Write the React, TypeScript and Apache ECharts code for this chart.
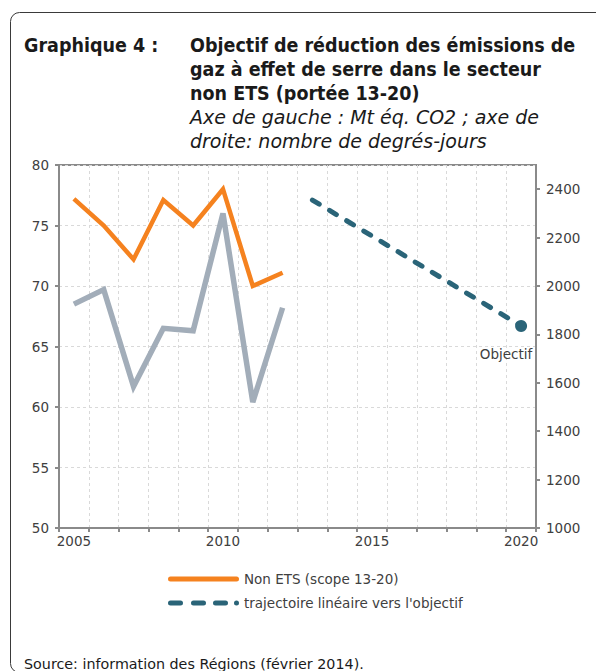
import React, { useEffect, useRef } from "react";
import * as echarts from "echarts";

const years = ["2005","2006","2007","2008","2009","2010","2011","2012","2013","2014","2015","2016","2017","2018","2019","2020"];
const nonEtsValues = [77.2, 75.0, 72.2, 77.1, 75.0, 78.0, 70.0, 71.1];
const degreeDaysValues = [1925, 1985, 1585, 1825, 1815, 2300, 1520, 1910];
const trajectoryYears = ["2013", "2020"];
const trajectoryValues = [77.1, 66.7];
const leftTicks = { min: 50, max: 80, interval: 5 };
const rightTicks = { min: 1000, max: 2500, interval: 200 };

const nonEtsName = "Non ETS (scope 13-20)";
const trajName = "trajectoire linéaire vers l'objectif";

const FONT = "'DejaVu Sans', Verdana, sans-serif";
const COND = "'DejaVu Sans Condensed', 'DejaVu Sans', sans-serif";
const AXIS_GREY = "#8a8a8a";
const TEXT = "#404040";

export default function App() {
  const ref = useRef<HTMLDivElement>(null);
  useEffect(() => {
    if (!ref.current) return;
    const chart = echarts.init(ref.current, undefined, { renderer: "svg" });
    const titleStyle = (text: string, x: number, y: number, italic = false) => ({
      type: "text",
      x,
      y,
      style: {
        text,
        font: italic ? `italic 19px ${FONT}` : `bold 19.5px ${COND}`,
        fill: "#1a1a1a",
        verticalAlign: "middle",
        align: "left",
      },
    });
    const trajData = trajectoryYears.map((y, i) => {
      const last = i === trajectoryYears.length - 1;
      return {
        value: [y, trajectoryValues[i]],
        symbol: last ? "circle" : "none",
        symbolSize: last ? 12 : 0,
        label: last
          ? {
              show: true,
              position: "bottom",
              formatter: "Objectif",
              offset: [-15, 10],
              color: TEXT,
              fontSize: 13.5,
              fontFamily: FONT,
            }
          : { show: false },
      };
    });
    chart.setOption({
      animation: false,
      textStyle: { fontFamily: FONT },
      graphic: [
        {
          type: "rect",
          shape: { x: 10.5, y: 12.5, width: 600, height: 660, r: 9 },
          style: { fill: "none", stroke: "#3a3a3a", lineWidth: 1 },
          silent: true,
        },
        titleStyle("Graphique 4 :", 24, 45),
        titleStyle("Objectif de réduction des émissions de", 190, 45),
        titleStyle("gaz à effet de serre dans le secteur", 190, 69),
        titleStyle("non ETS (portée 13-20)", 190, 93),
        titleStyle("Axe de gauche : Mt éq. CO2 ; axe de", 190, 117, true),
        titleStyle("droite: nombre de degrés-jours", 190, 141, true),
        {
          type: "text",
          x: 24,
          y: 664,
          style: {
            text: "Source: information des Régions (février 2014).",
            font: `14.3px ${FONT}`,
            fill: "#1a1a1a",
            verticalAlign: "middle",
          },
        },
      ],
      grid: {
        left: 59,
        right: 60,
        top: 165,
        bottom: 143,
        show: true,
        borderColor: AXIS_GREY,
        borderWidth: 2,
        containLabel: false,
      },
      legend: {
        orient: "vertical",
        left: 168,
        top: 572,
        padding: 0,
        itemWidth: 71,
        itemHeight: 5,
        itemGap: 10,
        textStyle: { color: TEXT, fontSize: 13.5, fontFamily: FONT },
        data: [
          { name: nonEtsName, icon: "path://M2.5,0h66a2.5,2.5 0 0 1 0,5h-66a2.5,2.5 0 0 1 0,-5z", itemStyle: { color: "#f5821f" } },
          {
            name: trajName,
            icon: "path://M2.5,0h10a2.5,2.5 0 0 1 0,5h-10a2.5,2.5 0 0 1 0,-5z M25.5,0h10a2.5,2.5 0 0 1 0,5h-10a2.5,2.5 0 0 1 0,-5z M47.5,0h10a2.5,2.5 0 0 1 0,5h-10a2.5,2.5 0 0 1 0,-5z M68.5,0a2.5,2.5 0 0 1 0,5a2.5,2.5 0 0 1 0,-5z M71,0v0",
            itemStyle: { color: "#2a6478" },
          },
        ],
      },
      xAxis: {
        type: "category",
        data: years,
        boundaryGap: true,
        axisLine: { lineStyle: { color: AXIS_GREY, width: 2 } },
        axisTick: { show: true, interval: 0, length: 4, lineStyle: { color: AXIS_GREY, width: 2 } },
        axisLabel: { interval: 4, color: TEXT, fontSize: 13.5, fontFamily: FONT, margin: 6 },
        splitLine: { show: true, interval: 0, lineStyle: { color: "#d9d9d9", type: [3, 3], width: 1 } },
      },
      yAxis: [
        {
          type: "value",
          min: leftTicks.min,
          max: leftTicks.max,
          interval: leftTicks.interval,
          axisLine: { show: true, lineStyle: { color: AXIS_GREY, width: 2 } },
          axisTick: { show: true, length: 4, lineStyle: { color: AXIS_GREY, width: 2 } },
          axisLabel: { color: TEXT, fontSize: 13.5, fontFamily: FONT, margin: 10 },
          splitLine: { show: true, lineStyle: { color: "#d9d9d9", type: [3, 3], width: 1 } },
        },
        {
          type: "value",
          position: "right",
          min: rightTicks.min,
          max: rightTicks.max,
          interval: rightTicks.interval,
          axisLine: { show: true, lineStyle: { color: AXIS_GREY, width: 2 } },
          axisTick: { show: true, length: 4, lineStyle: { color: AXIS_GREY, width: 2 } },
          axisLabel: {
            color: TEXT,
            fontSize: 13.5,
            fontFamily: FONT,
            margin: 10,
            showMaxLabel: false,
            formatter: (v: number) => (v % 200 === 0 ? String(v) : ""),
          },
          splitLine: { show: false },
        },
      ],
      series: [
        {
          name: "Degrés-jours",
          type: "line",
          yAxisIndex: 1,
          data: degreeDaysValues,
          symbol: "none",
          lineStyle: { color: "#a2adb9", width: 5.5, join: "miter" },
          itemStyle: { color: "#a2adb9" },
          z: 2,
        },
        {
          name: nonEtsName,
          type: "line",
          yAxisIndex: 0,
          data: nonEtsValues,
          symbol: "none",
          lineStyle: { color: "#f5821f", width: 4.5, join: "miter" },
          itemStyle: { color: "#f5821f" },
          z: 3,
        },
        {
          name: trajName,
          type: "line",
          yAxisIndex: 0,
          data: trajData,
          showSymbol: true,
          lineStyle: { color: "#2a6478", width: 5, type: [8, 12], cap: "round" },
          itemStyle: { color: "#2a6478" },
          z: 4,
        },
      ],
    });
    return () => chart.dispose();
  }, []);
  return (
    <div
      ref={ref}
      style={{ position: "absolute", left: 0, top: 0, width: 596, height: 671, background: "#fff" }}
    />
  );
}
